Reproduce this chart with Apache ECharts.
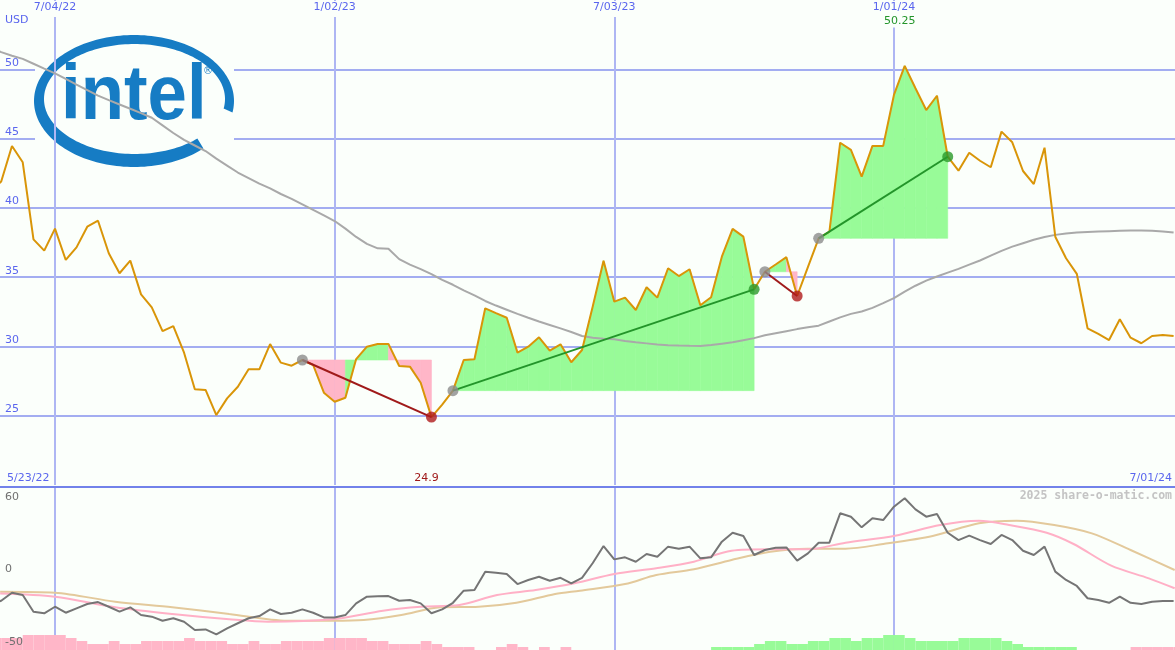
<!DOCTYPE html>
<html><head><meta charset="utf-8">
<script src="https://cdn.jsdelivr.net/npm/echarts@6/dist/echarts.min.js"></script>
<style>html,body{margin:0;padding:0;background:#fbfffb}#c{width:1175px;height:650px}</style>
</head><body><div id="c"></div>
<script>
// ---- data ----
const tickIndex = [6, 32, 58, 84];
const tickLabels = ['7/04/22', '1/02/23', '7/03/23', '1/01/24'];
const rangeLabels = ['5/23/22', '7/01/24'];
const X_MIN = 0.887, X_MAX = 110.13;   // visible week-index range
const price = [
  41.2, 41.9, 44.46, 43.29, 37.73, 36.91, 38.50, 36.24, 37.15, 38.64,
  39.07, 36.72, 35.28, 36.19, 33.76, 32.82, 31.11, 31.47, 29.55, 26.91,
  26.86, 25.05, 26.25, 27.09, 28.35, 28.35, 30.17, 28.83, 28.61, 29.02,
  28.66, 26.66, 26.01, 26.30, 29.09, 29.98, 30.18, 30.18, 28.59, 28.54,
  27.38, 24.90, 25.80, 26.81, 29.02, 29.07, 32.75, 32.40, 32.07, 29.55,
  29.98, 30.66, 29.69, 30.15, 28.86, 29.74, 32.90, 36.19, 33.23, 33.52,
  32.63, 34.27, 33.52, 35.64, 35.08, 35.57, 32.97, 33.55, 36.48, 38.48,
  37.92, 34.12, 35.39, 35.91, 36.44, 33.64, 35.73, 37.80, 38.28, 44.70,
  44.18, 42.25, 44.47, 44.47, 48.15, 50.25, 48.63, 47.06, 48.09, 43.69,
  42.68, 43.98, 43.40, 42.93, 45.50, 44.73, 42.66, 41.72, 44.34, 37.92,
  36.36, 35.24, 31.31, 30.90, 30.46, 31.96, 30.63, 30.23, 30.75, 30.82, 30.75
];
const ma = [
  51.6, 51.24, 50.98, 50.75, 50.40, 50.05, 49.71, 49.31, 48.90, 48.50,
  48.10, 47.77, 47.46, 47.15, 46.84, 46.50, 45.95, 45.40, 44.90, 44.50,
  44.10, 43.55, 43.05, 42.55, 42.15, 41.75, 41.40, 41.00, 40.65, 40.25,
  39.85, 39.45, 39.05, 38.50, 37.90, 37.40, 37.08, 37.05, 36.30, 35.90,
  35.58, 35.22, 34.80, 34.45, 34.05, 33.68, 33.28, 32.95, 32.65, 32.35,
  32.07, 31.80, 31.55, 31.30, 31.04, 30.75, 30.62, 30.56, 30.51, 30.40,
  30.30, 30.22, 30.14, 30.09, 30.06, 30.04, 30.03, 30.10, 30.20, 30.30,
  30.45, 30.60, 30.80, 30.95, 31.10, 31.25, 31.38, 31.50, 31.80, 32.10,
  32.35, 32.52, 32.78, 33.12, 33.48, 33.95, 34.38, 34.75, 35.05, 35.33,
  35.60, 35.90, 36.20, 36.55, 36.90, 37.20, 37.45, 37.70, 37.90, 38.05,
  38.15, 38.22, 38.26, 38.30, 38.32, 38.34, 38.36, 38.37, 38.35, 38.30, 38.22
];
const sigStart = [29, 43, 72, 77];
const sigEnd   = [41, 71, 75, 89];
const osc = [
  -20, -17.8, -12.3, -13.9, -25.3, -26.4, -21.9, -26.0, -23.0, -20.0,
  -18.7, -21.9, -25.3, -22.3, -27.6, -28.7, -31.5, -29.8, -32.2, -37.8,
  -37.4, -40.8, -36.7, -33.2, -29.8, -28.3, -23.7, -26.9, -26.0, -23.7,
  -26.0, -29.2, -29.2, -27.6, -19.6, -15.0, -14.8, -14.6, -17.8, -17.3,
  -19.6, -26.4, -23.7, -19.2, -10.9, -10.5, 2.1, 1.4, 0.5, -6.4,
  -3.6, -1.4, -4.1, -2.1, -5.9, -2.2, 8.0, 19.6, 10.5, 11.9,
  8.9, 14.2, 12.3, 19.2, 17.8, 19.2, 11.2, 11.9, 22.6, 28.7,
  26.5, 13.5, 16.9, 18.5, 18.7, 9.6, 14.6, 21.9, 21.9, 42.0,
  39.7, 32.4, 38.6, 37.4, 46.5, 52.3, 44.7, 39.7, 41.5, 28.7,
  23.7, 26.7, 23.7, 21.0, 27.2, 23.7, 16.4, 13.5, 19.2, 2.1,
  -3.6, -7.7, -16.1, -17.3, -19.2, -15.0, -19.2, -20.0, -18.5, -18.0, -18.0
];
const oscFast = [[0.9,-12.8],[6.0,-15.0],[11.6,-22.3],[16.9,-26.9],[22.2,-30.5],[25.8,-32.2],[31.8,-30.5],[36.5,-24.6],[40.0,-21.9],[43.6,-20.7],[47.1,-13.9],[50.7,-10.5],[54.3,-5.9],[58.0,0.5],[61.9,4.4],[65.4,8.9],[68.9,16.4],[72.5,17.4],[76.0,17.4],[79.5,21.9],[84.1,26.7],[88.3,34.0],[91.9,36.9],[94.7,34.0],[98.2,28.7],[100.7,21.0],[104.2,6.2],[107.7,-2.5],[110.1,-9.3]];
const oscSlow = [[0.9,-11.6],[6.0,-12.3],[11.6,-18.5],[16.9,-22.3],[22.2,-26.9],[27.6,-31.5],[31.8,-31.5],[34.7,-31.0],[38.2,-27.6],[41.8,-22.3],[45.4,-21.9],[48.9,-19.2],[52.5,-13.2],[54.8,-10.9],[59.0,-6.4],[61.9,-0.2],[65.4,3.7],[68.9,10.1],[72.5,15.7],[76.0,17.8],[79.5,17.8],[83.0,21.0],[87.6,26.5],[91.9,35.2],[95.4,36.9],[98.9,34.0],[102.4,28.3],[106.0,16.9],[110.1,3.2]];
const strength = [
  -4,-4,-4,-5,-5,-5,-5,-4,-3,-2,
  -2,-3,-2,-2,-3,-3,-3,-3,-4,-3,
  -3,-3,-2,-2,-3,-2,-2,-3,-3,-3,
  -3,-4,-4,-4,-4,-3,-3,-2,-2,-2,
  -3,-2,-1,-1,-1,0,0,-1,-2,-1,
  0,-1,0,-1,0,0,0,0,0,0,
  0,0,0,0,0,0,0,1,1,1,
  1,2,3,3,2,2,3,3,4,4,
  3,4,4,5,5,4,3,3,3,3,
  4,4,4,4,3,2,1,1,1,1,
  1,0,0,0,0,0,-1,-1,-1,-1,-1
];
const lowerLabels = [0, -50];
const lowerTopLabel = 60;

// ---- style ----
const BG = '#fbfffb';
const GRID_H = '#a3adf1', GRID_V = '#aeb6f3';
const LBL = '#5a66ee', FONT = 'DejaVu Sans';
const PINK = '#ffb6c8', GREEN = '#98fb98';
const RED_LINE = '#a01a1a', GREEN_LINE = '#23952a';

const chart = echarts.init(document.getElementById('c'), null, {renderer: 'canvas'});

const fillData = [];
sigStart.forEach((s, k) => {
  const lvl = price[s];
  for (let i = s; i < sigEnd[k]; i++) fillData.push([i, price[i], price[i + 1], lvl]);
});
const signalLines = sigStart.map((s, k) => {
  const e = sigEnd[k];
  return {
    type: 'line', xAxisIndex: 0, yAxisIndex: 0, z: 6, symbol: 'none', silent: true,
    data: [[s, price[s]], [e, price[e]]],
    lineStyle: {color: price[e] >= price[s] ? GREEN_LINE : RED_LINE, width: 2}
  };
});
const dots = [];
sigStart.forEach((s, k) => {
  const e = sigEnd[k];
  dots.push({value: [s, price[s]], itemStyle: {color: '#8c8c8c'}});
  dots.push({value: [e, price[e]], itemStyle: {color: price[e] >= price[s] ? '#2a9a2a' : '#b01c1c'}});
});

// logo ring polygon (decoration)
function ringPts() {
  const pts = [], a0 = 46, a1 = 370;
  for (let a = a0; a <= a1; a += 2) {
    const t = a * Math.PI / 180; pts.push([134 + 100 * Math.cos(t), 101 + 66 * Math.sin(t)]);
  }
  for (let a = a1; a >= a0; a -= 2) {
    const t = a * Math.PI / 180; pts.push([134.5 + 90.5 * Math.cos(t), 99 + 55 * Math.sin(t)]);
  }
  return pts;
}

const option = {
  backgroundColor: BG,
  animation: false,
  grid: [
    {left: 0, right: 0, top: 0, height: 485},
    {left: 0, right: 0, top: 487, bottom: 0}
  ],
  xAxis: [
    {gridIndex: 0, type: 'value', min: X_MIN, max: X_MAX, position: 'top',
     axisLine: {show: false}, axisTick: {show: false, customValues: tickIndex},
     axisLabel: {inside: true, customValues: tickIndex, margin: 1,
       formatter: v => tickLabels[tickIndex.indexOf(v)],
       color: LBL, fontSize: 11, fontFamily: FONT, backgroundColor: BG, padding: [1, 2, 4, 2]},
     splitLine: {show: true, lineStyle: {color: GRID_V, width: 2}}, z: 1},
    {gridIndex: 1, type: 'value', min: X_MIN, max: X_MAX, position: 'top',
     axisLine: {show: true, onZero: false, lineStyle: {color: '#7282ea', width: 2}},
     axisTick: {show: false, customValues: tickIndex},
     axisLabel: {show: false},
     splitLine: {show: true, lineStyle: {color: GRID_V, width: 2}}}
  ],
  yAxis: [
    {gridIndex: 0, type: 'value', min: 20, max: 55, interval: 5,
     axisLine: {show: false}, axisTick: {show: false},
     splitLine: {show: true, showMinLine: false, showMaxLine: false, lineStyle: {color: GRID_H, width: 2}},
     axisLabel: {inside: true, margin: 5, verticalAlign: 'bottom', color: LBL, fontSize: 11, fontFamily: FONT,
       showMinLabel: false, showMaxLabel: false, padding: [0, 0, 1, 0]}},
    {gridIndex: 1, type: 'value', min: -51.5, max: 60, z: 3,
     axisLine: {show: false}, axisTick: {show: false, customValues: [0]},
     splitLine: {show: true, showMinLine: false, showMaxLine: false, lineStyle: {color: GRID_H, width: 2}},
     axisLabel: {inside: true, margin: 5, customValues: lowerLabels, verticalAlign: 'bottom',
       color: '#707070', fontSize: 11, fontFamily: FONT}},
    {gridIndex: 1, type: 'value', min: 0, max: 163 / 3, show: false}
  ],
  series: [
    {type: 'custom', xAxisIndex: 0, yAxisIndex: 0, z: 2, silent: true, clip: true,
     data: fillData, encode: {x: 0, y: [1, 2, 3]},
     renderItem: (params, api) => {
       const i = api.value(0), a = api.value(1), b = api.value(2), l = api.value(3);
       const c = b >= l ? GREEN : PINK;
       return {type: 'polygon',
         shape: {points: [api.coord([i, l]), api.coord([i, a]), api.coord([i + 1, b]), api.coord([i + 1, l])]},
         style: {fill: c, stroke: c, lineWidth: 0.6}};
     }},
    {type: 'line', xAxisIndex: 0, yAxisIndex: 0, z: 3, symbol: 'none', silent: true,
     data: ma.map((v, i) => [i, v]), lineStyle: {color: '#a9a9a9', width: 2}},
    {type: 'line', xAxisIndex: 0, yAxisIndex: 0, z: 4, symbol: 'none', silent: true,
     data: price.map((v, i) => [i, v]), lineStyle: {color: '#d99508', width: 2}},
    ...signalLines,
    {type: 'scatter', xAxisIndex: 0, yAxisIndex: 0, z: 7, symbolSize: 11, silent: true, data: dots},
    // lower panel
    {type: 'custom', xAxisIndex: 1, yAxisIndex: 2, z: 2, silent: true, clip: true,
     data: strength.map((v, i) => [i, v]), encode: {x: 0, y: 1},
     renderItem: (params, api) => {
       const i = api.value(0), h = api.value(1);
       if (!h) return null;
       const p0 = api.coord([i, Math.abs(h)]), p1 = api.coord([i + 1, 0]);
       return {type: 'rect', shape: {x: p0[0], y: p0[1], width: p1[0] - p0[0], height: p1[1] - p0[1]},
         style: {fill: h > 0 ? GREEN : PINK}};
     }},
    {type: 'line', xAxisIndex: 1, yAxisIndex: 1, z: 4, symbol: 'none', silent: true, smooth: 0.3,
     data: oscSlow, lineStyle: {color: '#e3c99b', width: 2}},
    {type: 'line', xAxisIndex: 1, yAxisIndex: 1, z: 5, symbol: 'none', silent: true, smooth: 0.3,
     data: oscFast, lineStyle: {color: '#ffb0c6', width: 2}},
    {type: 'line', xAxisIndex: 1, yAxisIndex: 1, z: 6, symbol: 'none', silent: true,
     data: osc.map((v, i) => [i, v]), lineStyle: {color: '#757575', width: 2}}
  ],
  graphic: [
    {type: 'rect', id: 'logoBg', z: 1, silent: true, shape: {x: 35, y: 33, width: 199, height: 134}, style: {fill: BG}},
    {type: 'polygon', id: 'ring', z: 1, silent: true, shape: {points: ringPts()}, style: {fill: '#167cc4'}},
    {type: 'text', id: 'intel', z: 1, silent: true, x: 61, y: 98, scaleX: 0.92,
     style: {text: 'intel', font: 'bold 77px "Liberation Sans"', fill: '#167cc4', align: 'left', verticalAlign: 'middle'}},
    {type: 'text', id: 'reg', z: 1, silent: true, x: 208, y: 71,
     style: {text: '®', font: '10px "DejaVu Sans"', fill: '#167cc4', align: 'center', verticalAlign: 'middle'}},
    {type: 'text', id: 'usd', left: 5, top: 15, z: 10,
     style: {text: 'USD', font: '11px "DejaVu Sans"', fill: LBL}},
    {type: 'text', id: 'rl0', left: 7, top: 473, z: 10,
     style: {text: rangeLabels[0], font: '11px "DejaVu Sans"', fill: LBL}},
    {type: 'text', id: 'rl1', right: 3, top: 473, z: 10,
     style: {text: rangeLabels[1], font: '11px "DejaVu Sans"', fill: LBL}},
    {type: 'text', id: 'wm', right: 3, top: 490, z: 10,
     style: {text: '2025 share-o-matic.com', font: 'bold 11.5px "DejaVu Sans Mono"', fill: '#c4c4c4'}}
  ]
};
chart.setOption(option);

// min / max annotations positioned through the axis scales
let iMin = 1, iMax = 1;
for (let i = 1; i < price.length; i++) {
  if (price[i] < price[iMin]) iMin = i;
  if (price[i] > price[iMax]) iMax = i;
}
const pMin = chart.convertToPixel({xAxisIndex: 0, yAxisIndex: 0}, [iMin, 20]);
const pMax = chart.convertToPixel({xAxisIndex: 0, yAxisIndex: 0}, [iMax, 55]);
const p60 = chart.convertToPixel({yAxisIndex: 1}, lowerTopLabel);
chart.setOption({graphic: [
  {type: 'text', id: 'minLbl', z: 10, x: pMin[0] - 5, y: pMin[1] - 7,
   style: {text: String(price[iMin]), font: '11px "DejaVu Sans"', fill: '#a01a1a', align: 'center', verticalAlign: 'middle'}},
  {type: 'text', id: 'maxLbl', z: 10, x: pMax[0] - 5, y: pMax[1] + 21,
   style: {text: String(price[iMax]), font: '11px "DejaVu Sans"', fill: '#23952a', align: 'center', verticalAlign: 'middle',
     backgroundColor: BG, padding: [1, 2, 1, 2]}},
  {type: 'text', id: 'lbl60', z: 10, x: 5, y: p60 + 5,
   style: {text: String(lowerTopLabel), font: '11px "DejaVu Sans"', fill: '#707070', align: 'left', verticalAlign: 'top'}}
]});
</script>
</body></html>
